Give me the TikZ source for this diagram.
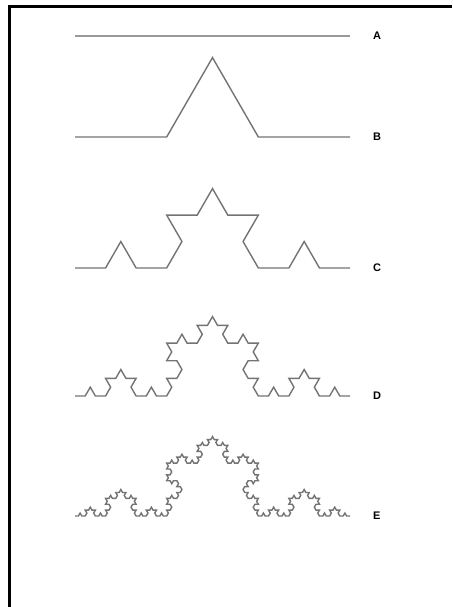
\documentclass[tikz,border=0pt]{standalone}
\usepackage{fontspec}
\setmainfont{Liberation Sans}
\usetikzlibrary{positioning,lindenmayersystems}
\pgfdeclarelindenmayersystem{Koch}{\rule{F -> F+F--F+F}}
\tikzset{
  frame/.style = {line width=3pt, black},
  flat/.style  = {line width=2.6pt, black!40},
  koch/.style  = {line width=1.4pt, black!55},
  lbl/.style   = {font=\bfseries\fontsize{11}{13}\selectfont, inner sep=0pt},
}

\begin{document}
\begin{tikzpicture}[x=1pt,y=1pt]
 \useasboundingbox (0,0) rectangle (452,607);
 \draw[frame] (9.5,0) -- (9.5,600.5) -- (452,600.5);
 % A: straight segment
 \draw[flat] (75,571) coordinate (startA) -- (350,571) coordinate (endA);
 \node[lbl, right=23pt of endA] (labA) {A};
 % B to E: Koch steps 1 to 4
 \foreach \n/\lab/\y/\len in {1/B/470/91.667, 2/C/339/30.556, 3/D/211/10.185, 4/E/91/3.395}{
   \begin{scope}[shift={(75,\y)}]
     \draw[koch, l-system={Koch, axiom=F, order=\n, angle=60, step=\len pt}]
       (0,0) lindenmayer system;
     \coordinate (end\lab) at (275,0);
     \node[lbl, right=23pt of end\lab] (lab\lab) {\lab};
   \end{scope}}
\end{tikzpicture}
\end{document}
